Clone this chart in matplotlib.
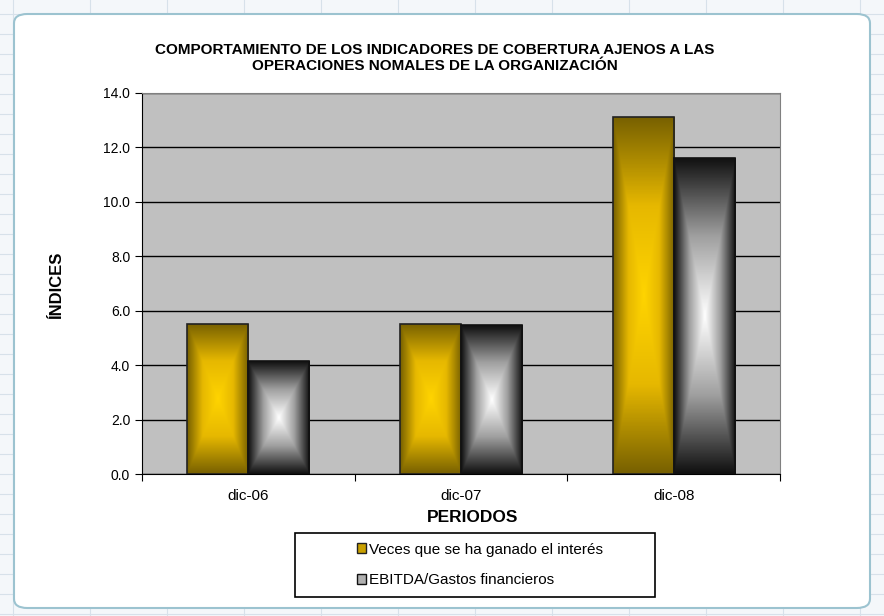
import matplotlib.pyplot as plt
import numpy as np
from matplotlib.patches import FancyBboxPatch, Rectangle, Patch
from matplotlib.colors import LinearSegmentedColormap

# data
periodos = ['dic-06', 'dic-07', 'dic-08']
veces_interes = [5.52, 5.52, 13.12]
ebitda_gastos = [4.15, 5.47, 11.62]
series_names = ['Veces que se ha ganado el interés', 'EBITDA/Gastos financieros']

plt.rcParams['font.family'] = ['Liberation Sans', 'DejaVu Sans']

W, H = 884, 616
fig = plt.figure(figsize=(W / 100, H / 100), dpi=100)
fig.patch.set_facecolor('#f4f7fa')

# spreadsheet grid behind the chart object
for x in np.arange(13, W, 77):
    fig.add_artist(plt.Line2D([x / W, x / W], [0, 1], color='#d7e1ea', lw=0.8, zorder=0.1))
for y in np.arange(2, H, 20):
    fig.add_artist(plt.Line2D([0, 1], [y / H, y / H], color='#d7e1ea', lw=0.8, zorder=0.1))

# chart frame
frame = FancyBboxPatch((14 / W, 8 / H), (W - 28) / W, (H - 22) / H,
                       boxstyle='round,pad=0,rounding_size=0.015',
                       transform=fig.transFigure, facecolor='white',
                       edgecolor='#9cc3d0', lw=1.5, zorder=0.5)
fig.add_artist(frame)

ax = fig.add_axes([142 / W, (H - 474) / H, 638 / W, 381 / H])
ax.set_facecolor('#c0c0c0')
ax.set_zorder(1)

x = np.arange(len(periodos))
bw = 0.287
b1 = ax.bar(x - bw / 2, veces_interes, bw, facecolor='none', edgecolor='#222222', lw=1.2, zorder=3)
b2 = ax.bar(x + bw / 2, ebitda_gastos, bw, facecolor='none', edgecolor='#111111', lw=1.2, zorder=3)

# box gradient: bright centre, dark edges
gold = LinearSegmentedColormap.from_list('gold', ['#ffd400', '#e6b800', '#776000'])
grey = LinearSegmentedColormap.from_list('grey', ['#ffffff', '#a0a0a0', '#101010'])
gx = np.linspace(-1, 1, 120)
gy = np.linspace(-1, 1, 300)
GX, GY = np.meshgrid(gx, gy)
T = np.maximum(np.abs(GX), np.abs(GY))
for bars, cmap in [(b1, gold), (b2, grey)]:
    for p in bars:
        x0, y0 = p.get_x(), p.get_y()
        w, h = p.get_width(), p.get_height()
        im = ax.imshow(T, cmap=cmap, vmin=0, vmax=1, aspect='auto',
                       extent=[x0, x0 + w, y0, y0 + h], zorder=2, interpolation='bilinear')
        im.set_clip_path(p)

ax.set_xlim(-0.5, 2.5)
ax.set_ylim(0, 14)
ax.set_yticks(np.arange(0, 15, 2))
ax.set_yticklabels([f'{v:.1f}' for v in np.arange(0, 15, 2)], fontsize=10)
ax.yaxis.grid(True, color='black', lw=1)
ax.set_axisbelow(True)

ax.set_xticks([-0.5, 0.5, 1.5, 2.5])
ax.set_xticklabels([])
ax.set_xticks(x, minor=True)
ax.set_xticklabels(periodos, minor=True, fontsize=11)
ax.tick_params(axis='x', which='minor', length=0, pad=11)
ax.tick_params(axis='both', which='major', direction='out', length=5, color='black')

for s in ['top', 'right']:
    ax.spines[s].set_color('#808080')
for s in ['left', 'bottom']:
    ax.spines[s].set_color('black')

fig.text(435 / W, 1 - 58 / H,
         'COMPORTAMIENTO DE LOS INDICADORES DE COBERTURA AJENOS A LAS\nOPERACIONES NOMALES DE LA ORGANIZACIÓN',
         ha='center', va='center', fontsize=11, fontweight='bold', linespacing=1.1)
fig.text(57 / W, 1 - 285 / H, 'ÍNDICES', rotation=90, ha='center', va='center',
         fontsize=12, fontweight='bold')
fig.text(473 / W, 1 - 517 / H, 'PERIODOS', ha='center', va='center',
         fontsize=12.5, fontweight='bold')

# legend box
fig.add_artist(Rectangle((295 / W, 1 - 597 / H), 360 / W, 64 / H, transform=fig.transFigure,
                         facecolor='white', edgecolor='black', lw=1.2, zorder=2))
handles = [Patch(facecolor='#c9a000', edgecolor='#222222'),
           Patch(facecolor='#b0b0b0', edgecolor='#111111')]
leg = fig.legend(handles, series_names, loc='center left',
                 bbox_to_anchor=(343 / W, 1 - 565 / H), frameon=False,
                 handlelength=0.6, handleheight=0.6, handletextpad=0.2,
                 labelspacing=1.1, fontsize=11)
leg.set_zorder(3)

fig.savefig('out.png', dpi=100, facecolor=fig.get_facecolor())
